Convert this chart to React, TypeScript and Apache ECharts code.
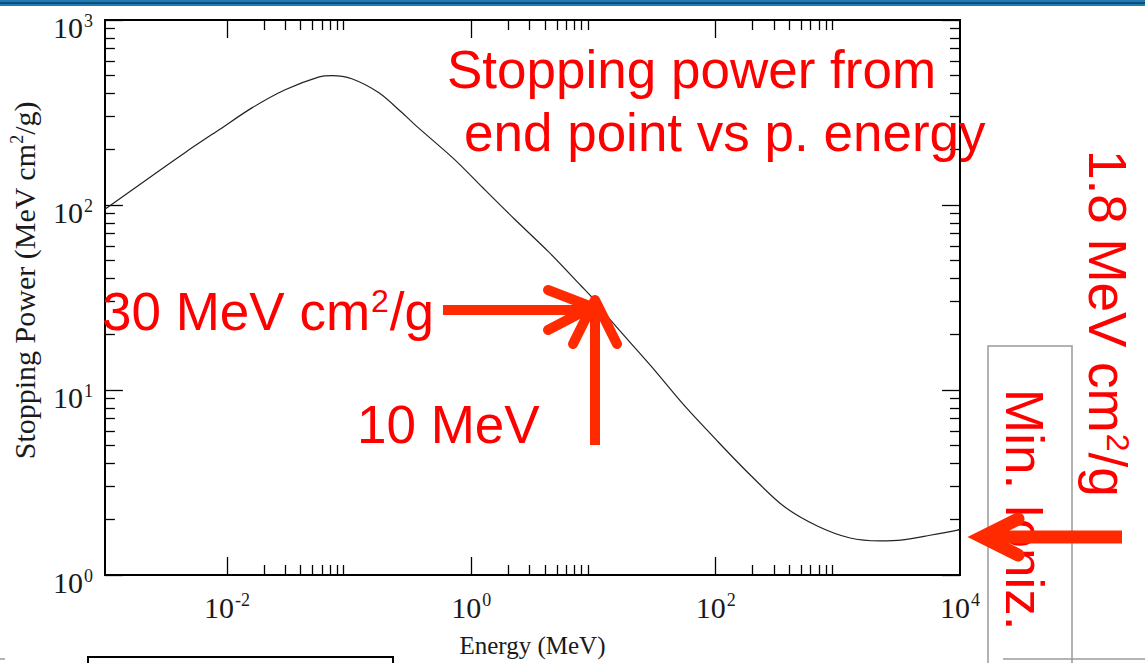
import React, { useEffect, useRef } from "react";
import * as echarts from "echarts";

// Proton stopping power curve
const energyMeV = [0.001, 0.00247, 0.00458, 0.00867, 0.0161, 0.0299, 0.0568, 0.0724, 0.105, 0.175, 0.27, 0.344, 0.73, 1.21, 2.25, 4.27, 7.93, 10, 13.9, 29.5, 54.8, 104, 193, 359, 679, 1260, 2220, 3410, 5680, 9550, 10000];
const stoppingPower = [94.8, 145, 193, 256, 336, 420, 493, 501, 481, 404, 316, 272, 176, 126, 84, 56, 36.5, 31, 23.7, 13.5, 8.3, 5.27, 3.46, 2.36, 1.84, 1.585, 1.53, 1.55, 1.64, 1.75, 1.77];

// Axis ticks and labels
const xLabelValues = [0.01, 1, 100, 10000];
const xMajorTicks = [0.01, 1, 100];
const xMinorTicks = [0.02, 0.03, 0.04, 0.05, 0.06, 0.07, 0.08, 0.09, 2, 3, 4, 5, 6, 7, 8, 9, 200, 300, 400, 500, 600, 700, 800, 900];
const yLabelValues = [1, 10, 100, 1000];
const yMajorTicks = [1, 10, 100, 1000];
const yMinorTicks = [2, 3, 4, 5, 6, 7, 8, 9, 20, 30, 40, 50, 60, 70, 80, 90, 200, 300, 400, 500, 600, 700, 800, 900];

const xTitle = "Energy (MeV)";
const yTitleMain = "Stopping Power (MeV cm";
const yTitleEnd = "/g)";

const serif = "'Liberation Serif', 'Times New Roman', serif";
const sans = "'Liberation Sans', Arial, Helvetica, sans-serif";
const red = "#ff0000";
const arrowRed = "#ff2a00";
const ink = "#1a1a1a";

const supLabel = (v: number) => `{b|10}{s|${Math.round(Math.log10(v))}}`;
const labelRich = {
  b: { fontFamily: serif, fontSize: 30, color: ink, lineHeight: 31, verticalAlign: "bottom" },
  s: { fontFamily: serif, fontSize: 18, color: ink, lineHeight: 18, verticalAlign: "top", padding: [0, 0, 19, 1] },
};

const redRich = {
  n: { fontFamily: sans, fontSize: 53, fill: red, lineHeight: 53, verticalAlign: "bottom" },
  s: { fontFamily: sans, fontSize: 32, fill: red, lineHeight: 32, verticalAlign: "top", padding: [0, 1, 23, 1] },
};

const axisLineStyle = { show: true, onZero: false, lineStyle: { color: "#000", width: 2 } };

function xAxisDef(position: string, ticks: number[], len: number, extra: any = {}) {
  return {
    type: "log",
    logBase: 10,
    min: 0.001,
    max: 10000,
    position,
    gridIndex: 0,
    axisLine: axisLineStyle,
    axisTick: { show: true, inside: true, length: len, customValues: ticks, lineStyle: { color: "#000", width: 1.3 } },
    axisLabel: { show: false },
    splitLine: { show: false },
    minorTick: { show: false },
    minorSplitLine: { show: false },
    ...extra,
  };
}

function yAxisDef(position: string, ticks: number[], len: number, extra: any = {}) {
  return {
    type: "log",
    logBase: 10,
    min: 1,
    max: 1000,
    position,
    gridIndex: 0,
    axisLine: axisLineStyle,
    axisTick: { show: true, inside: true, length: len, customValues: ticks, lineStyle: { color: "#000", width: 1.3 } },
    axisLabel: { show: false },
    splitLine: { show: false },
    minorTick: { show: false },
    minorSplitLine: { show: false },
    ...extra,
  };
}

export default function App() {
  const ref = useRef<HTMLDivElement>(null);

  useEffect(() => {
    if (!ref.current) return;
    const chart = echarts.init(ref.current, undefined, { renderer: "svg" });

    const seriesData = energyMeV.map((e, i) => [e, stoppingPower[i]]);

    const option: any = {
      animation: false,
      backgroundColor: "#ffffff",
      grid: { left: 102, top: 20, width: 858, height: 557, containLabel: false },
      xAxis: [
        xAxisDef("bottom", xMajorTicks, 18, {
          name: xTitle,
          nameLocation: "middle",
          nameGap: 58,
          nameTextStyle: { fontFamily: serif, fontSize: 25, color: ink },
          axisLabel: {
            show: true,
            customValues: xLabelValues,
            margin: 16,
            formatter: supLabel,
            rich: labelRich,
          },
        }),
        xAxisDef("bottom", xMinorTicks, 10),
        xAxisDef("top", xMajorTicks, 18),
        xAxisDef("top", xMinorTicks, 10),
      ],
      yAxis: [
        yAxisDef("left", yMajorTicks, 18, {
          name: `{a|${yTitleMain}}{s|2}{a|${yTitleEnd}}`,
          nameLocation: "middle",
          nameGap: 58,
          nameTextStyle: {
            padding: [0, 0, 0, 34],
            rich: {
              a: { fontFamily: serif, fontSize: 30, color: ink, lineHeight: 31, verticalAlign: "bottom" },
              s: { fontFamily: serif, fontSize: 18, color: ink, lineHeight: 18, verticalAlign: "top", padding: [0, 0, 16, 0] },
            },
          },
          axisLabel: {
            show: true,
            customValues: yLabelValues,
            margin: 12,
            padding: [14, 0, 0, 0],
            formatter: supLabel,
            rich: labelRich,
          },
        }),
        yAxisDef("left", yMinorTicks, 10),
        yAxisDef("right", yMajorTicks, 18),
        yAxisDef("right", yMinorTicks, 10),
      ],
      series: [
        {
          type: "line",
          xAxisIndex: 0,
          yAxisIndex: 0,
          data: seriesData,
          showSymbol: false,
          smooth: 0.3,
          lineStyle: { color: "#222", width: 1.2 },
          z: 3,
        },
      ],
      graphic: [
        { type: "rect", z: 1, shape: { x: 0, y: 0, width: 1145, height: 6 }, style: { fill: "#1f7bb0" } },
        { type: "rect", z: 1, shape: { x: 0, y: 2, width: 1145, height: 2 }, style: { fill: "#0b4f7e" } },
        { type: "rect", z: 1, shape: { x: 988, y: 346, width: 84, height: 330 }, style: { fill: "none", stroke: "#9b9b9b", lineWidth: 1.5 } },
        { type: "line", z: 1, shape: { x1: 1003, y1: 659, x2: 1145, y2: 659 }, style: { stroke: "#9b9b9b", lineWidth: 1.5 } },
        { type: "line", z: 1, shape: { x1: 0, y1: 659, x2: 5, y2: 659 }, style: { stroke: "#9b9b9b", lineWidth: 1.5 } },
        { type: "rect", z: 1, shape: { x: 88, y: 657, width: 305, height: 20 }, style: { fill: "none", stroke: "#000", lineWidth: 2 } },

        { type: "text", z: 50, x: 447, y: 69, style: { text: "Stopping power from", fill: red, fontFamily: sans, fontSize: 53, align: "left", verticalAlign: "middle" } },
        { type: "text", z: 50, x: 464, y: 132, style: { text: "end point vs p. energy", fill: red, fontFamily: sans, fontSize: 53, align: "left", verticalAlign: "middle" } },
        { type: "text", z: 50, x: 102, y: 311, style: { text: "{n|30 MeV cm}{s|2}{n|/g}", rich: redRich, align: "left", verticalAlign: "middle" } },
        { type: "text", z: 50, x: 357, y: 424, style: { text: "10 MeV", fill: red, fontFamily: sans, fontSize: 53, align: "left", verticalAlign: "middle" } },
        { type: "text", z: 50, x: 1107, y: 150, rotation: -Math.PI / 2, style: { text: "{n|1.8 MeV cm}{s|2}{n|/g}", rich: redRich, align: "left", verticalAlign: "middle" } },
        { type: "text", z: 50, x: 1024, y: 389, rotation: -Math.PI / 2, style: { text: "Min. Ioniz.", fill: red, fontFamily: sans, fontSize: 53, align: "left", verticalAlign: "middle" } },

        { type: "polyline", z: 60, shape: { points: [[443, 310], [586, 310]] }, style: { stroke: arrowRed, lineWidth: 10, fill: "none" } },
        { type: "polyline", z: 60, shape: { points: [[548, 290], [592, 307], [548, 330]] }, style: { stroke: arrowRed, lineWidth: 10, fill: "none", lineCap: "round", lineJoin: "round" } },
        { type: "polyline", z: 60, shape: { points: [[595, 445], [595, 306]] }, style: { stroke: arrowRed, lineWidth: 10, fill: "none" } },
        { type: "polyline", z: 60, shape: { points: [[573, 344], [595, 300], [617, 344]] }, style: { stroke: arrowRed, lineWidth: 10, fill: "none", lineCap: "round", lineJoin: "round" } },
        { type: "polyline", z: 60, shape: { points: [[1122, 537], [985, 537]] }, style: { stroke: arrowRed, lineWidth: 13, fill: "none" } },
        { type: "polyline", z: 60, shape: { points: [[1018, 519], [982, 537], [1018, 555]] }, style: { stroke: arrowRed, lineWidth: 13, fill: "none", lineCap: "round", lineJoin: "miter" } },
      ],
    };

    chart.setOption(option);
    return () => chart.dispose();
  }, []);

  return (
    <div
      ref={ref}
      style={{ position: "fixed", left: 0, top: 0, width: "1145px", height: "663px", background: "#fff" }}
    />
  );
}
